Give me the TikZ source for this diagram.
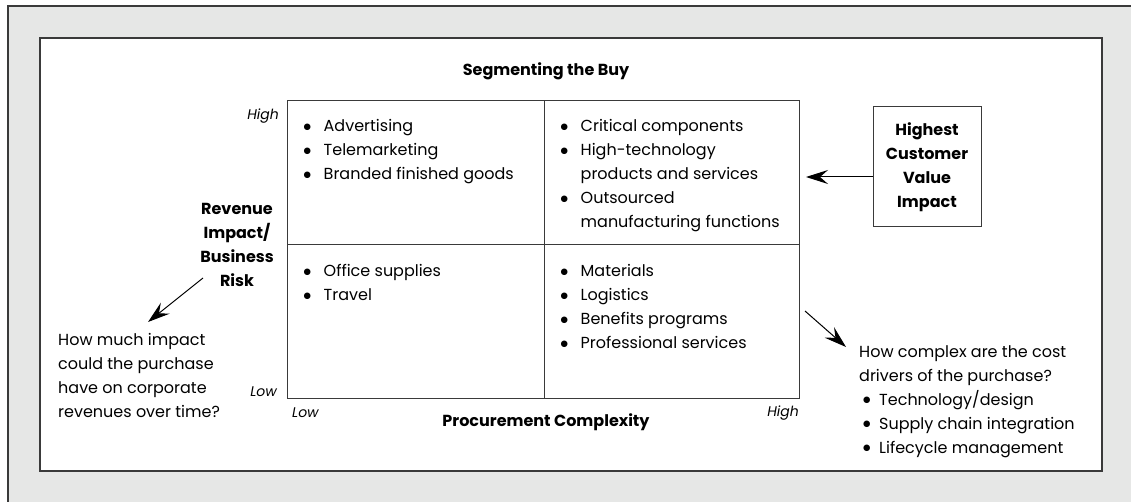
\documentclass[tikz,border=0pt]{standalone}
\usepackage{fontspec}
\setmainfont{Poppins}
\newfontfamily\symfont{DejaVu Sans}
\usepackage{xcolor}
\usepackage{tikz}
\usetikzlibrary{positioning,arrows.meta}
\definecolor{framegray}{HTML}{E6E7E6}
\definecolor{linegray}{HTML}{3A3A3A}
\tikzset{%
	cell/.style    = {draw=linegray, line width=1pt, minimum width=#1},
	entry/.style   = {anchor=north west, align=left, inner sep=0pt,
		font=\fontsize{16}{24}\selectfont},
	tag/.style     = {inner sep=0pt, font=\itshape\fontsize{14}{18}\selectfont},
	head/.style    = {inner sep=0pt, align=center,
		font=\bfseries\fontsize{16}{24}\selectfont},
	pointer/.style = {-{Stealth[length=22pt, width=14pt, inset=8pt]},
		line width=1pt, draw=black}
}
\newcommand{\bul}[1][20pt]{\makebox[#1][l]{\raisebox{2.5pt}{\symfont\fontsize{8.5}{8.5}\selectfont ●}}}
\newcommand{\ind}{\hspace*{20pt}}

\begin{document}
\begin{tikzpicture}[x=1pt, y=-1pt, >=Stealth]
          \useasboundingbox (0,0) rectangle (1131,502);
          \draw[fill=framegray, draw=linegray, line width=1.3pt] (8,6) rectangle (1145,515);
          \draw[fill=white, draw=linegray, line width=1.3pt] (40,38) rectangle (1102,471);
        \draw
            node at (415.5,173) [cell=257pt, minimum height=144pt, name=tl] {}
            node at (671.5,173) [cell=255pt, minimum height=144pt, name=tr] {}
            node at (415.5,321.5) [cell=257pt, minimum height=153pt, name=bl] {}
            node at (671.5,321.5) [cell=255pt, minimum height=153pt, name=br] {};

            \node [entry, below right=19pt and 17pt of tl.north west] (tltext)
                {\bul Advertising\\ \bul Telemarketing\\ \bul Branded finished goods};
            \node [entry, below right=19pt and 17pt of tr.north west] (trtext)
                {\bul Critical components\\ \bul High-technology\\ \ind products and services\\
                 \bul Outsourced\\ \ind manufacturing functions};
            \node [entry, below right=20pt and 17pt of bl.north west] (bltext)
                {\bul Office supplies\\ \bul Travel};
            \node [entry, below right=20pt and 17pt of br.north west] (brtext)
                {\bul Materials\\ \bul Logistics\\ \bul Benefits programs\\ \bul Professional services};

            \node [head] (title) at (546,71) {Segmenting the Buy};
            \node [head] (xaxis) at (546,422) {Procurement Complexity};
            \node [head] (yaxis) at (237,245) {Revenue\\ Impact/\\ Business\\ Risk};
            \node [head, draw=linegray, line width=1pt, minimum width=108pt, minimum height=120pt]
                (impact) at (927,167) {Highest\\ Customer\\ Value\\ Impact};

            \node [tag, anchor=east] (yhigh) at (279,116) {High};
            \node [tag, anchor=east] (ylow) at (277,392) {Low};
            \node [tag, anchor=west] (xlow) at (292,413) {Low};
            \node [tag, anchor=east] (xhigh) at (799,413) {High};

            \node [entry] (revq) at (58,333)
                {How much impact\\ could the purchase\\ have on corporate\\ revenues over time?};
            \node [entry] (costq) at (859,345)
                {How complex are the cost\\ drivers of the purchase?\\
                 \hspace*{4pt}\bul[16pt]Technology/design\\
                 \hspace*{4pt}\bul[16pt]Supply chain integration\\
                 \hspace*{4pt}\bul[16pt]Lifecycle management};

            \coordinate (valuetip) at (806,177);
            \coordinate (revtail) at (203,278);
            \coordinate (revtip) at (148,322);
            \coordinate (costtail) at (805,311);
            \coordinate (costtip) at (846,347);

            \draw[pointer] (impact.west |- valuetip) -- (valuetip);
            \draw[pointer] (revtail) -- (revtip);
            \draw[pointer] (costtail) -- (costtip);
    \end{tikzpicture}
\end{document}
